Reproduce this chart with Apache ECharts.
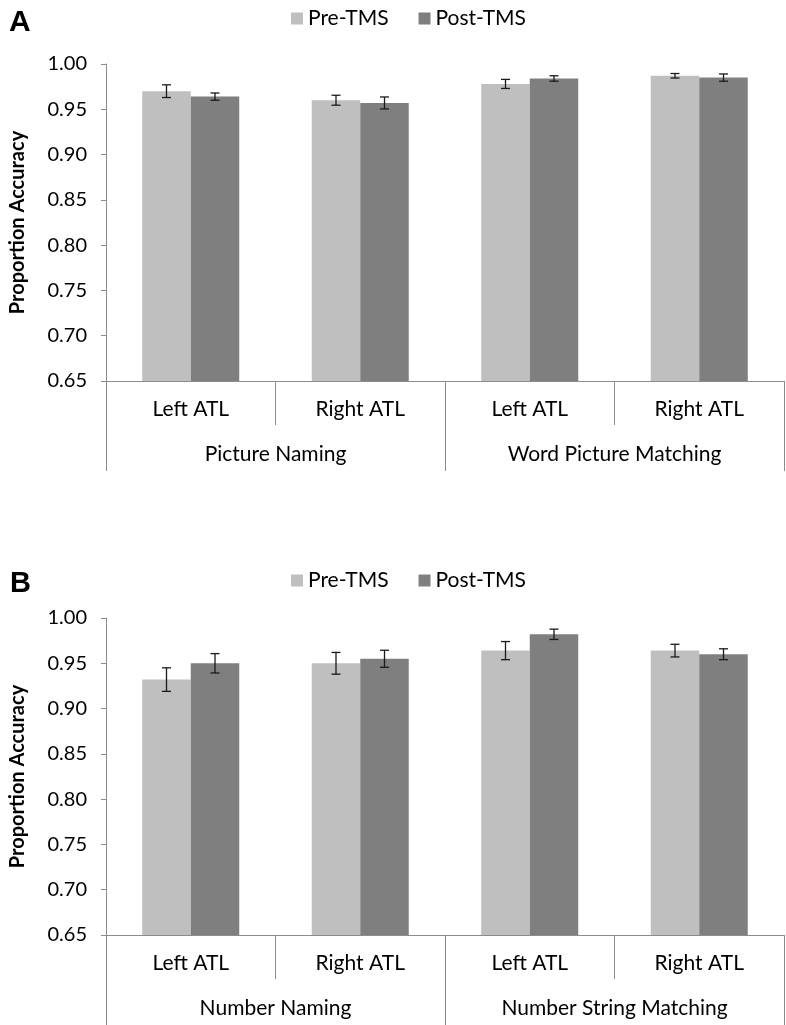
<!DOCTYPE html>
<html>
<head>
<meta charset="utf-8">
<script src="https://cdn.jsdelivr.net/npm/echarts@6/dist/echarts.min.js"></script>
<style>
html,body{margin:0;padding:0;background:#fff;}
#chart{width:786px;height:1025px;}
</style>
</head>
<body>
<div id="chart"></div>
<script>
// ---- data ----
var categories = ['Left ATL', 'Right ATL', 'Left ATL', 'Right ATL'];
var groupsA = ['Picture Naming', 'Word Picture Matching'];
var groupsB = ['Number Naming', 'Number String Matching'];
var seriesNames = ['Pre-TMS', 'Post-TMS'];
var panelLabels = ['A', 'B'];

var preA = [0.970, 0.960, 0.978, 0.987];
var preAErr = [0.007, 0.0055, 0.005, 0.0025];
var postA = [0.964, 0.957, 0.984, 0.985];
var postAErr = [0.004, 0.0066, 0.003, 0.004];

var preB = [0.932, 0.950, 0.964, 0.964];
var preBErr = [0.013, 0.012, 0.010, 0.007];
var postB = [0.950, 0.955, 0.982, 0.960];
var postBErr = [0.0107, 0.0094, 0.0057, 0.006];

var yMin = 0.65, yMax = 1.00, yInterval = 0.05;
var yName = 'Proportion Accuracy';

// ---- style ----
var FONT = 'Lato, "Open Sans", sans-serif';
var PRE_COLOR = '#bfbfbf';
var POST_COLOR = '#7f7f7f';
var AXIS_COLOR = '#8c8c8c';
var BAR_W = 48.5;

function errData(vals, errs) {
  return vals.map(function (v, i) { return [i, v - errs[i], v + errs[i]]; });
}

function errRender(offset) {
  return function (params, api) {
    var i = api.value(0);
    var pLo = api.coord([i, api.value(1)]);
    var pHi = api.coord([i, api.value(2)]);
    var x = pLo[0] + offset;
    var cap = 4.5;
    var st = { stroke: '#1a1a1a', lineWidth: 1.3 };
    return {
      type: 'group',
      children: [
        { type: 'line', shape: { x1: x, y1: pLo[1], x2: x, y2: pHi[1] }, style: st },
        { type: 'line', shape: { x1: x - cap, y1: pLo[1], x2: x + cap, y2: pLo[1] }, style: st },
        { type: 'line', shape: { x1: x - cap, y1: pHi[1], x2: x + cap, y2: pHi[1] }, style: st }
      ]
    };
  };
}

var grids = [
  { left: 101, right: 2, top: 64, height: 317 },
  { left: 101, right: 2, top: 618, height: 317 }
];

var xAxes = [], yAxes = [], series = [];
var panels = [
  { groups: groupsA, pre: preA, preErr: preAErr, post: postA, postErr: postAErr },
  { groups: groupsB, pre: preB, preErr: preBErr, post: postB, postErr: postBErr }
];

panels.forEach(function (p, gi) {
  // sub-category axis
  xAxes.push({
    type: 'category', gridIndex: gi, data: categories, position: 'bottom',
    axisLine: { show: true, lineStyle: { color: AXIS_COLOR, width: 1 } },
    axisTick: { show: true, length: 44, interval: 0, lineStyle: { color: AXIS_COLOR } },
    axisLabel: { interval: 0, margin: 18, fontSize: 21, color: '#000', fontFamily: FONT }
  });
  // group axis
  xAxes.push({
    type: 'category', gridIndex: gi, data: p.groups, position: 'bottom',
    axisLine: { show: false },
    axisTick: { show: true, length: 90, interval: 0, lineStyle: { color: AXIS_COLOR } },
    axisLabel: { interval: 0, margin: 63, fontSize: 21, color: '#000', fontFamily: FONT }
  });
  yAxes.push({
    type: 'value', gridIndex: gi, min: yMin, max: yMax, interval: yInterval,
    name: yName, nameLocation: 'middle', nameRotate: 90, nameGap: 78,
    nameTextStyle: { fontSize: 20, fontWeight: 'bold', color: '#000', fontFamily: FONT },
    axisLine: { show: true, lineStyle: { color: AXIS_COLOR, width: 1 } },
    axisTick: { show: true, length: 5, lineStyle: { color: AXIS_COLOR } },
    splitLine: { show: false },
    axisLabel: { margin: 19, fontSize: 20, color: '#000', fontFamily: FONT,
      formatter: function (v) { return v.toFixed(2); } }
  });
  var xi = gi * 2;
  series.push({
    name: seriesNames[0], type: 'bar', xAxisIndex: xi, yAxisIndex: gi,
    data: p.pre, barWidth: BAR_W, barGap: '0%', itemStyle: { color: PRE_COLOR }, clip: true
  });
  series.push({
    name: seriesNames[1], type: 'bar', xAxisIndex: xi, yAxisIndex: gi,
    data: p.post, barWidth: BAR_W, barGap: '0%', itemStyle: { color: POST_COLOR }, clip: true
  });
  series.push({
    type: 'custom', xAxisIndex: xi, yAxisIndex: gi, z: 10,
    renderItem: errRender(-BAR_W / 2), data: errData(p.pre, p.preErr), silent: true
  });
  series.push({
    type: 'custom', xAxisIndex: xi, yAxisIndex: gi, z: 10,
    renderItem: errRender(BAR_W / 2), data: errData(p.post, p.postErr), silent: true
  });
});

var legendBase = {
  data: seriesNames, icon: 'rect', itemWidth: 12, itemHeight: 12, itemGap: 30,
  textStyle: { fontSize: 21, color: '#000', fontFamily: FONT, padding: [0, 0, 0, 0] }
};

var option = {
  animation: false,
  backgroundColor: '#fff',
  title: [
    { text: panelLabels[0], left: 4, top: 3, textStyle: { fontSize: 30, fontWeight: 'bold', color: '#000', fontFamily: '"Liberation Sans", Arial, sans-serif' } },
    { text: panelLabels[1], left: 5, top: 564, textStyle: { fontSize: 29, fontWeight: 'bold', color: '#000', fontFamily: '"Liberation Sans", Arial, sans-serif' } }
  ],
  legend: [
    Object.assign({}, legendBase, { left: 286, top: 3 }),
    Object.assign({}, legendBase, { left: 286, top: 565 })
  ],
  grid: grids,
  xAxis: xAxes,
  yAxis: yAxes,
  series: series
};

var chart = echarts.init(document.getElementById('chart'), null, { renderer: 'canvas' });
chart.setOption(option);
</script>
</body>
</html>
